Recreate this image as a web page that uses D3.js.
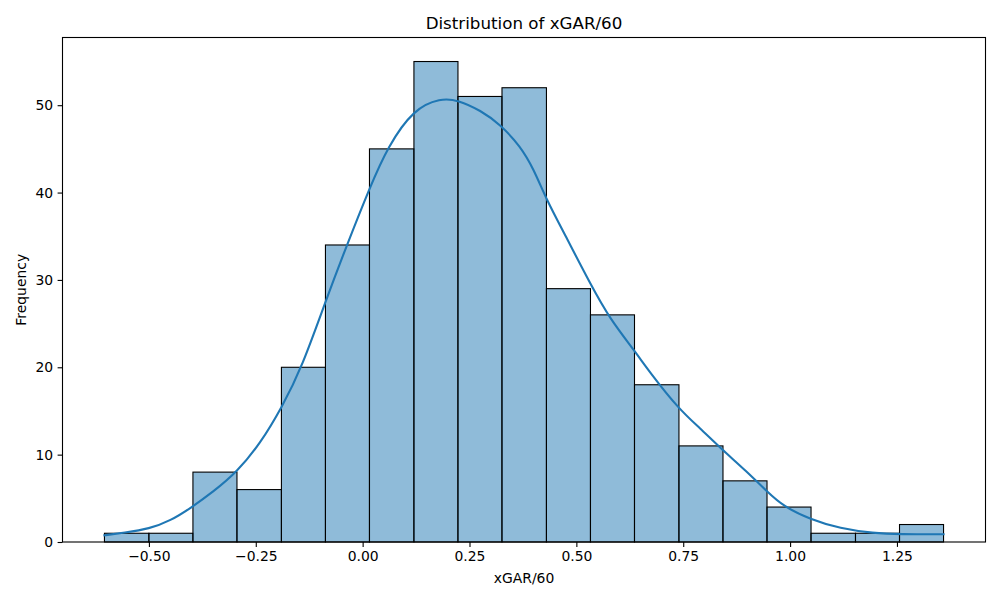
<!DOCTYPE html>
<html>
<head>
<meta charset="utf-8">
<script src="https://cdn.jsdelivr.net/npm/d3@7"></script>
<style>
  html, body { margin: 0; padding: 0; background: #fff; }
  svg { display: block; font-family: "DejaVu Sans", sans-serif; }
</style>
</head>
<body>
<svg id="chart" width="1000" height="600"></svg>
<script>
// ---- Data ----
const binEdges = [-0.604, -0.500, -0.397, -0.294, -0.190, -0.087, 0.016, 0.120, 0.223, 0.326,
                  0.430, 0.533, 0.636, 0.740, 0.843, 0.946, 1.049, 1.153, 1.256, 1.359];
const binCounts = [1, 1, 8, 6, 20, 34, 45, 55, 51, 52, 29, 26, 18, 11, 7, 4, 1, 1, 2];

// KDE curve (scaled to counts)
const kdeX = [-0.604, -0.558, -0.499, -0.449, -0.403, -0.349, -0.295, -0.239, -0.189, -0.142,
              -0.085, -0.036, 0.017, 0.058, 0.120, 0.182, 0.223, 0.276, 0.322, 0.369,
              0.400, 0.430, 0.471, 0.533, 0.579, 0.636, 0.673, 0.740, 0.790, 0.837,
              0.899, 0.946, 0.985, 1.047, 1.117, 1.195, 1.257, 1.359];
const kdeY = [0.77, 1.07, 1.50, 2.45, 3.86, 5.77, 7.95, 11.3, 15.4, 20.0,
              27.8, 34.1, 40.6, 45.2, 49.6, 50.8, 50.6, 49.4, 47.8, 45.3,
              42.7, 39.2, 35.4, 29.5, 25.5, 21.9, 19.35, 15.2, 13.0, 10.75,
              8.06, 5.77, 4.05, 2.6, 1.53, 1.0, 0.88, 0.88];

const xTicks = [-0.50, -0.25, 0.00, 0.25, 0.50, 0.75, 1.00, 1.25];
const yTicks = [0, 10, 20, 30, 40, 50];

const titleText = "Distribution of xGAR/60";
const xLabel = "xGAR/60";
const yLabel = "Frequency";

// ---- Layout ----
const L = 62.5, R = 985.5, T = 37.5, B = 542;
const svg = d3.select("#chart");

const lo = binEdges[0], hi = binEdges[binEdges.length - 1];
const pad = (hi - lo) * 0.05;
const x = d3.scaleLinear().domain([lo - pad, hi + pad]).range([L, R]);
const yMax = d3.max(binCounts) * 1.05;
const y = d3.scaleLinear().domain([0, yMax]).range([B, T]);

// bars
const bars = binCounts.map((c, i) => ({x0: binEdges[i], x1: binEdges[i + 1], c}));
svg.append("g").selectAll("rect").data(bars).join("rect")
  .attr("x", d => x(d.x0))
  .attr("y", d => y(d.c))
  .attr("width", d => x(d.x1) - x(d.x0))
  .attr("height", d => y(0) - y(d.c))
  .attr("fill", "rgba(31,119,180,0.5)")
  .attr("stroke", "#000")
  .attr("stroke-width", 1.1);

// KDE line
const kde = kdeX.map((v, i) => [v, kdeY[i]]);
svg.append("path")
  .datum(kde)
  .attr("fill", "none")
  .attr("stroke", "#1f77b4")
  .attr("stroke-width", 2.1)
  .attr("stroke-linecap", "square")
  .attr("d", d3.line().x(d => x(d[0])).y(d => y(d[1])).curve(d3.curveBasis));

// axes
const fmt = v => d3.format(".2f")(v).replace("-", "\u2212");
const xAxis = svg.append("g").attr("transform", `translate(0,${B})`)
  .call(d3.axisBottom(x).tickValues(xTicks).tickFormat(fmt).tickSize(4.9).tickPadding(4.5));
const yAxis = svg.append("g").attr("transform", `translate(${L},0)`)
  .call(d3.axisLeft(y).tickValues(yTicks).tickSize(4.9).tickPadding(4.5));

[xAxis, yAxis].forEach(g => {
  g.select(".domain").remove();
  g.selectAll(".tick line").attr("stroke", "#000").attr("stroke-width", 1.1);
  g.selectAll(".tick text").attr("fill", "#000")
    .style("font-family", "'DejaVu Sans', sans-serif").style("font-size", "13.9px");
});

// frame
svg.append("rect")
  .attr("x", L).attr("y", T).attr("width", R - L).attr("height", B - T)
  .attr("fill", "none").attr("stroke", "#000").attr("stroke-width", 1.1);

// title and labels
svg.append("text").attr("x", (L + R) / 2).attr("y", 29)
  .attr("text-anchor", "middle").style("font-size", "16.7px").attr("fill", "#000")
  .text(titleText);
svg.append("text").attr("x", (L + R) / 2).attr("y", 583)
  .attr("text-anchor", "middle").style("font-size", "13.9px").attr("fill", "#000")
  .text(xLabel);
svg.append("text").attr("transform", `translate(26,${(T + B) / 2}) rotate(-90)`)
  .attr("text-anchor", "middle").style("font-size", "13.9px").attr("fill", "#000")
  .text(yLabel);
</script>
</body>
</html>
